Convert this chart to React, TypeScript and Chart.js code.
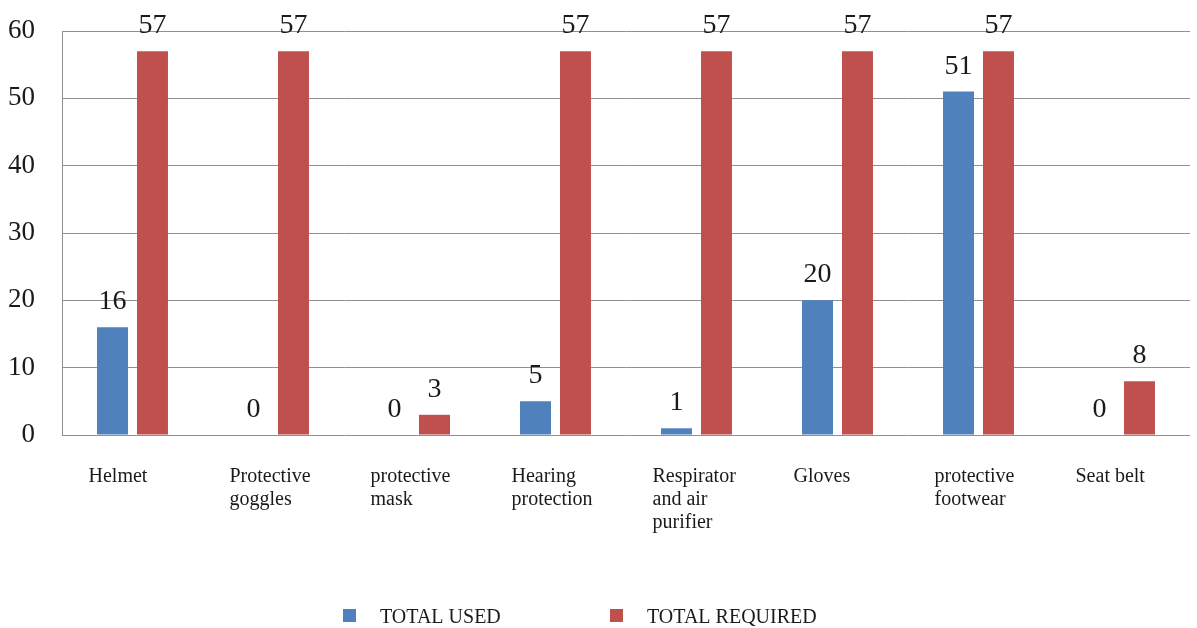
import React, { useEffect, useRef } from "react";
import { Chart, registerables } from "chart.js";

Chart.register(...registerables);

const categories: (string | string[])[] = [
  "Helmet",
  ["Protective", "goggles"],
  ["protective", "mask"],
  ["Hearing", "protection"],
  ["Respirator", "and air", "purifier"],
  "Gloves",
  ["protective", "footwear"],
  "Seat belt",
];
const totalUsed = [16, 0, 0, 5, 1, 20, 51, 0];
const totalRequired = [57, 57, 3, 57, 57, 57, 57, 8];
const seriesNames = ["TOTAL USED", "TOTAL REQUIRED"];
const yTicksMax = 60;
const yTickStep = 10;

const FONT = "'Liberation Serif', 'Times New Roman', serif";

const valueLabels = {
  id: "valueLabels",
  afterDatasetsDraw(chart: any) {
    const ctx = chart.ctx;
    ctx.save();
    ctx.font = `28px ${FONT}`;
    ctx.fillStyle = "#1a1a1a";
    ctx.textAlign = "center";
    ctx.textBaseline = "alphabetic";
    chart.data.datasets.forEach((ds: any, di: number) => {
      const meta = chart.getDatasetMeta(di);
      meta.data.forEach((el: any, i: number) => {
        ctx.fillText(String(ds.data[i]), el.x, el.y - 18);
      });
    });
    ctx.restore();
  },
};

const customLegend = {
  id: "customLegend",
  afterDraw(chart: any) {
    const ctx = chart.ctx;
    ctx.save();
    ctx.font = `20px ${FONT}`;
    ctx.textBaseline = "alphabetic";
    ctx.textAlign = "left";
    const starts = [343, 610];
    chart.data.datasets.forEach((ds: any, di: number) => {
      const x = starts[di];
      ctx.fillStyle = ds.backgroundColor;
      ctx.fillRect(x, 609, 13, 13);
      ctx.fillStyle = "#1a1a1a";
      ctx.fillText(ds.label, x + 37, 623);
    });
    ctx.restore();
  },
};

const zeroPad = (s: any) => {
  s.paddingTop = 0;
  s.paddingBottom = 0;
  s.paddingLeft = 0;
  s.paddingRight = 0;
};

export default function App() {
  const ref = useRef<HTMLCanvasElement>(null);
  useEffect(() => {
    document.body.style.margin = "0";
    const chart = new Chart(ref.current!, {
      type: "bar",
      data: {
        labels: categories,
        datasets: [
          { label: seriesNames[0], data: totalUsed, backgroundColor: "#4F81BD" },
          { label: seriesNames[1], data: totalRequired, backgroundColor: "#C0504D" },
        ],
      },
      options: {
        responsive: false,
        animation: false,
        devicePixelRatio: 1,
        layout: { padding: { top: 31, right: 7, left: 0, bottom: 0 } },
        datasets: { bar: { categoryPercentage: 0.567, barPercentage: 0.775 } },
        plugins: { legend: { display: false }, tooltip: { enabled: false } },
        scales: {
          y: {
            min: 0,
            max: yTicksMax,
            ticks: { stepSize: yTickStep, font: { size: 27, family: FONT }, color: "#1a1a1a", padding: 27 },
            grid: { color: "#909090", drawTicks: false },
            border: { display: true, color: "#909090" },
            afterFit: (s: any) => { s.width = 62; zeroPad(s); },
          },
          x: {
            grid: { display: false },
            border: { display: false },
            ticks: {
              align: "start",
              labelOffset: -44,
              font: { size: 20, family: FONT, lineHeight: 1.15 },
              color: "#1a1a1a",
              padding: 22,
              maxRotation: 0,
              autoSkip: false,
            },
            afterFit: (s: any) => { s.height = 193; zeroPad(s); },
          },
        },
      } as any,
      plugins: [valueLabels, customLegend],
    });
    return () => chart.destroy();
  }, []);
  return <canvas ref={ref} width={1197} height={628} style={{ display: "block", width: 1197, height: 628 }} />;
}
